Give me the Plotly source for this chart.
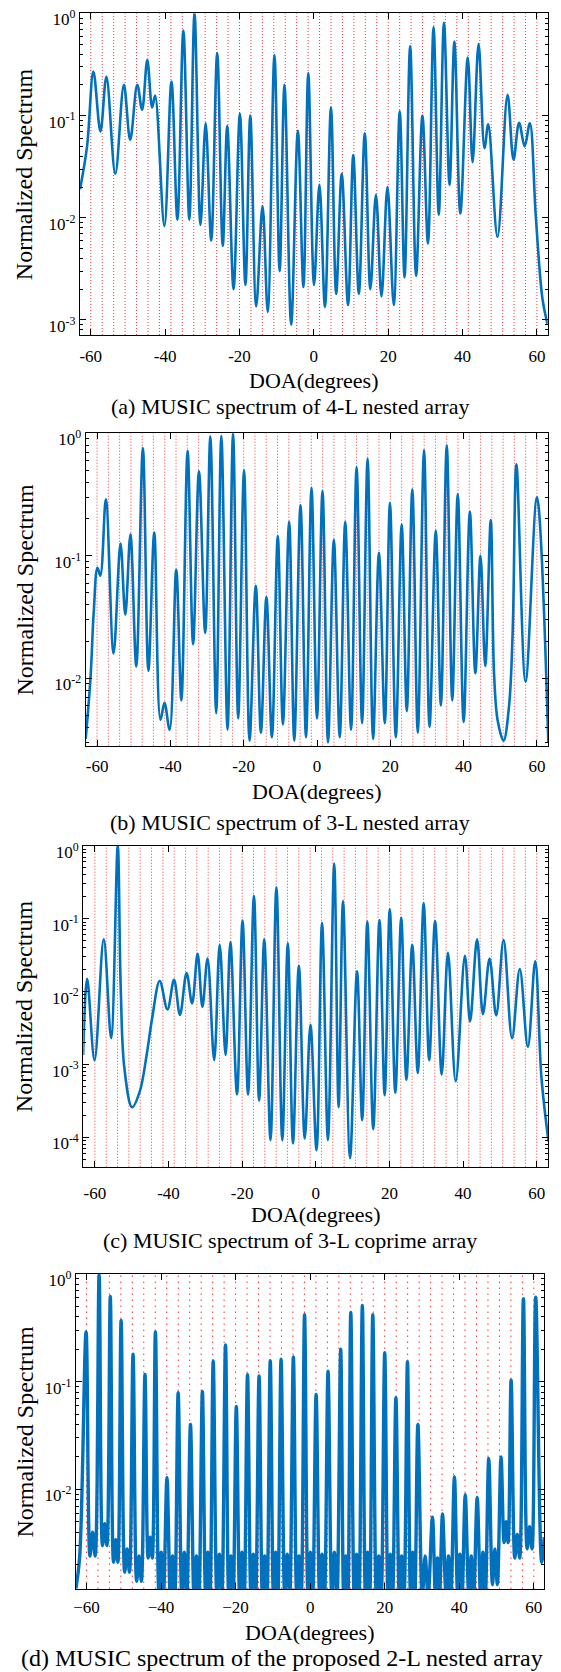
import math
import plotly.graph_objects as go

# ---------------- data ----------------
# true DOAs (red dotted lines), degrees
doa = [-60.0, -56.92, -53.85, -50.77, -47.69, -44.62, -41.54, -38.46, -35.38, -32.31,
       -29.23, -26.15, -23.08, -20.0, -16.92, -13.85, -10.77, -7.69, -4.62, -1.54,
       1.54, 4.62, 7.69, 10.77, 13.85, 16.92, 20.0, 23.08, 26.15, 29.23,
       32.31, 35.38, 38.46, 41.54, 44.62, 47.69, 50.77, 53.85, 56.92, 60.0]

x_tickvals = [-60, -40, -20, 0, 20, 40, 60]
x_ticktext_abc = ["-60", "-40", "-20", "0", "20", "40", "60"]
x_ticktext_d = ["\u221260", "\u221240", "\u221220", "0", "20", "40", "60"]

captions = ["(a) MUSIC spectrum of 4-L nested array",
            "(b) MUSIC spectrum of 3-L nested array",
            "(c) MUSIC spectrum of 3-L coprime array",
            "(d) MUSIC spectrum of the proposed 2-L nested array"]

# (a) 4-L nested array: key points (peaks and troughs) of the spectrum
a_deg = [-62.9, -61.0, -59.3, -57.4, -55.8, -53.4, -51.1, -49.4, -47.5, -46.2,
         -44.8, -43.5, -42.7, -40.2, -38.3, -36.7, -35.1, -33.5, -32.1, -30.5,
         -29.1, -27.6, -26.0, -24.5, -23.3, -21.6, -19.9, -18.4, -17.1, -15.5,
         -13.8, -12.4, -10.6, -9.2, -7.9, -6.1, -4.3, -2.8, -1.5, 0.05,
         1.5, 3.0, 4.6, 6.0, 7.5, 9.2, 10.6, 12.1, 13.7, 15.2,
         16.7, 18.2, 19.8, 21.5, 23.1, 24.4, 25.9, 27.5, 29.2, 30.7,
         32.2, 33.6, 35.0, 36.5, 37.8, 39.4, 41.4, 42.7, 44.3, 45.9,
         46.9, 49.4, 52.1, 53.7, 55.2, 56.7, 58.1, 59.7, 61.5, 62.9]
a_val = [0.019, 0.05, 0.27, 0.07, 0.24, 0.027, 0.2, 0.058, 0.2, 0.114,
         0.35, 0.12, 0.157, 0.0083, 0.215, 0.0096, 0.68, 0.0096, 1.0, 0.0085,
         0.084, 0.006, 0.41, 0.0053, 0.079, 0.002, 0.104, 0.0022, 0.1, 0.00136,
         0.013, 0.0012, 0.39, 0.003, 0.2, 0.0009, 0.071, 0.0021, 0.26, 0.0022,
         0.021, 0.00134, 0.12, 0.0018, 0.027, 0.0014, 0.041, 0.0018, 0.067, 0.002,
         0.0168, 0.0017, 0.02, 0.0014, 0.11, 0.0026, 0.48, 0.0027, 0.1, 0.0056,
         0.73, 0.0107, 0.81, 0.021, 0.53, 0.011, 0.37, 0.035, 0.50, 0.048,
         0.082, 0.0065, 0.16, 0.037, 0.085, 0.05, 0.084, 0.0103, 0.0016, 0.0009]

# (b) 3-L nested array
b_deg = [-63.1, -61.8, -60.9, -59.9, -59.1, -57.6, -55.5, -53.6, -52.3, -50.9,
         -49.3, -47.5, -46.0, -44.4, -42.7, -41.6, -40.2, -38.4, -37.0, -35.3,
         -33.8, -32.2, -30.5, -29.1, -27.5, -26.1, -24.4, -22.9, -21.5, -19.9,
         -18.4, -16.7, -15.3, -13.8, -12.3, -10.7, -9.3, -7.6, -6.2, -4.5,
         -3.0, -1.5, 0.0, 1.5, 3.0, 4.6, 6.2, 7.7, 9.3, 10.8,
         12.3, 13.8, 15.3, 16.9, 18.5, 19.9, 21.5, 23.1, 24.5, 26.0,
         27.5, 29.2, 30.7, 32.4, 33.8, 35.4, 36.9, 38.4, 40.0, 41.7,
         43.2, 44.6, 45.9, 47.4, 48.3, 49.3, 50.9, 52.4, 53.4, 54.4,
         56.9, 60.0, 63.1]
b_val = [0.0032, 0.01, 0.035, 0.08, 0.069, 0.29, 0.016, 0.126, 0.033, 0.15,
         0.0125, 0.76, 0.0115, 0.155, 0.0046, 0.0063, 0.0038, 0.077, 0.0066, 0.72,
         0.019, 0.49, 0.0235, 0.94, 0.0052, 0.95, 0.0038, 1.0, 0.0047, 0.50,
         0.0031, 0.057, 0.0036, 0.046, 0.0033, 0.145, 0.0042, 0.19, 0.0031, 0.26,
         0.0033, 0.36, 0.0047, 0.34, 0.0030, 0.135, 0.0033, 0.19, 0.0038, 0.53,
         0.0043, 0.62, 0.0032, 0.106, 0.0043, 0.27, 0.0033, 0.18, 0.0054, 0.35,
         0.0036, 0.73, 0.0040, 0.16, 0.0060, 0.80, 0.0066, 0.32, 0.0044, 0.23,
         0.011, 0.10, 0.0126, 0.196, 0.011, 0.0045, 0.0031, 0.006, 0.025, 0.56,
         0.0094, 0.30, 0.0030]

# (c) 3-L coprime array
c_deg = [-63.2, -62.1, -60.1, -57.6, -55.6, -53.8, -53.0, -52.0, -49.9, -47.8,
         -45.9, -44.4, -42.4, -40.3, -38.5, -36.9, -35.1, -33.6, -32.1, -30.8,
         -29.4, -27.6, -26.1, -24.5, -23.2, -21.4, -19.9, -18.4, -16.8, -15.4,
         -14.0, -12.3, -10.7, -9.1, -7.6, -6.2, -4.6, -3.0, -1.45, 0.2,
         1.7, 3.3, 5.0, 6.2, 7.4, 9.3, 11.2, 12.6, 14.0, 15.6,
         17.3, 18.7, 20.1, 21.6, 23.2, 24.6, 26.2, 27.7, 29.3, 30.8,
         32.4, 34.2, 35.9, 38.0, 40.5, 41.9, 43.8, 45.4, 47.2, 49.0,
         51.0, 53.3, 55.4, 57.6, 59.6, 61.3, 63.2]
c_val = [0.00135, 0.015, 0.00115, 0.052, 0.0023, 1.0, 0.012, 0.0009, 0.00026, 0.00043,
         0.0014, 0.0045, 0.014, 0.0057, 0.0145, 0.0048, 0.018, 0.0069, 0.033, 0.0062,
         0.0285, 0.00115, 0.044, 0.00135, 0.048, 0.00039, 0.094, 0.00039, 0.206, 0.00032,
         0.052, 0.000092, 0.27, 0.000092, 0.046, 0.000083, 0.0226, 0.000097, 0.0035, 0.000067,
         0.088, 0.000092, 0.57, 0.00026, 0.174, 0.000052, 0.019, 0.000173, 0.091, 0.00013,
         0.096, 0.00038, 0.135, 0.00041, 0.103, 0.00062, 0.044, 0.00077, 0.162, 0.00115,
         0.093, 0.00073, 0.034, 0.00059, 0.031, 0.0039, 0.052, 0.0049, 0.0285, 0.0047,
         0.051, 0.0023, 0.0204, 0.00175, 0.026, 0.00065, 0.000089]

# (d) proposed 2-L nested array: peaks, and per-gap trough / small side-lobe levels
d_peak_deg = [-60.1, -56.6, -53.6, -50.7, -47.5, -44.3, -41.5, -38.4, -35.4, -32.1,
              -28.9, -26.0, -22.7, -19.8, -16.8, -13.7, -10.7, -7.8, -4.5, -1.5,
              1.6, 4.8, 8.2, 10.9, 14.0, 16.8, 20.0, 23.0, 26.1, 28.9,
              32.8, 35.5, 38.7, 41.6, 44.8, 47.9, 51.2, 53.9, 57.2, 60.5]
d_peak_val = [0.29, 0.98, 0.62, 0.37, 0.18, 0.117, 0.29, 0.0129, 0.079, 0.04,
              0.081, 0.156, 0.22, 0.059, 0.116, 0.113, 0.157, 0.162, 0.17, 0.42,
              0.076, 0.125, 0.2, 0.44, 0.51, 0.42, 0.186, 0.071, 0.153, 0.040,
              0.0055, 0.0059, 0.0131, 0.0089, 0.0084, 0.0194, 0.020, 0.103, 0.59, 0.61]
d_trough_val = [0.0024, 0.0030, 0.0021, 0.0017, 0.0014, 0.0023, 0.0011, 0.0010, 0.0010, 0.0010,
                0.0010, 0.0010, 0.0010, 0.0010, 0.0010, 0.0010, 0.0010, 0.0010, 0.0010, 0.0010,
                0.0010, 0.0010, 0.0010, 0.0010, 0.0010, 0.0010, 0.0010, 0.0010, 0.0010, 0.0010,
                0.0010, 0.0010, 0.0010, 0.0010, 0.0010, 0.0013, 0.0032, 0.0023, 0.0028]
d_lobe_val = [0.0040, 0.0048, 0.0034, 0.0028, 0.0024, 0.0036, 0.0026, 0.0024, 0.0026, 0.0024,
              0.0026, 0.0025, 0.0024, 0.0026, 0.0025, 0.0024, 0.0026, 0.0025, 0.0024, 0.0026,
              0.0025, 0.0026, 0.0024, 0.0025, 0.0026, 0.0024, 0.0025, 0.0024, 0.0026, 0.0024,
              0.0023, 0.0024, 0.0025, 0.0024, 0.0026, 0.0028, 0.0050, 0.0038, 0.0045]
d_left_deg, d_left_val = [-62.8, -61.8], [0.0012, 0.0024]
d_right_deg, d_right_val = [62.1, 62.8], [0.0021, 0.0036]

# ---------------- build (d) curve from the read levels ----------------
d_deg, d_val = list(d_left_deg), list(d_left_val)
for i, (p, v) in enumerate(zip(d_peak_deg, d_peak_val)):
    d_deg.append(p)
    d_val.append(v)
    if i < len(d_peak_deg) - 1:
        q = d_peak_deg[i + 1]
        w = q - p
        d_deg += [p + 0.3 * w, p + 0.5 * w, p + 0.7 * w]
        d_val += [d_trough_val[i], d_lobe_val[i], d_trough_val[i]]
d_deg += d_right_deg
d_val += d_right_val

# ---------------- layout geometry (page pixels) ----------------
W, H = 561, 1672
OFF = 8  # the page body adds an 8px margin around the figure
panels = [
    dict(deg=a_deg, val=a_val, xr=[-62.9, 62.9], yr=[-3.147, 0.0005],
         box=(80, 547.7, 13.3, 335), yt=[1, 0.1, 0.01, 0.001], lw=2.6,
         xtt=x_ticktext_abc, stand=5, dash="1px,2px", cap_font=22, cap_x=290, tdy=45),
    dict(deg=b_deg, val=b_val, xr=[-63.1, 63.1], yr=[-2.55, 0.0005],
         box=(85.7, 548.3, 433.3, 745.7), yt=[1, 0.1, 0.01], lw=2.6,
         xtt=x_ticktext_abc, stand=5, dash="1px,2px", cap_font=22, cap_x=290, tdy=46),
    dict(deg=c_deg, val=c_val, xr=[-63.15, 63.15], yr=[-4.40, 0.0005],
         box=(83.3, 548.3, 845.7, 1166.7), yt=[1, 0.1, 0.01, 0.001, 0.0001], lw=2.6,
         xtt=x_ticktext_abc, stand=11, dash="1px,2px", cap_font=22, cap_x=290, tdy=48),
    dict(deg=d_deg, val=d_val, xr=[-62.8, 62.8], yr=[-2.926, 0.0005],
         box=(76, 544.3, 1274, 1589), yt=[1, 0.1, 0.01], lw=3.4,
         xtt=x_ticktext_d, stand=2, dash="1.5px,4.5px", cap_font=24, cap_x=281.5, tdy=43),
]
cap_y = [406, 822, 1240, 1658]


def px(xp):
    return (xp - OFF) / W


def py(yp):
    return 1 - (yp - OFF) / H


def sup_label(v):
    e = int(round(math.log10(v)))
    return "10<sup>%d</sup>" % e


def minor_vals(lo_exp):
    out = []
    e = int(math.floor(lo_exp))
    while e < 0:
        for k in range(2, 10):
            t = k * 10 ** e
            if math.log10(t) > lo_exp:
                out.append(t)
        e += 1
    return out


FONT = "Liberation Serif"
BLUE = "#0072BD"

fig = go.Figure()
shapes = []
annotations = []
layout = {}

for n, p in enumerate(panels, start=1):
    sfx = "" if n == 1 else str(n)
    xa, ya = "x" + sfx, "y" + sfx
    fig.add_trace(go.Scatter(x=p["deg"], y=p["val"], mode="lines",
                             line=dict(color=BLUE, width=p["lw"], shape="spline", smoothing=1.0),
                             xaxis=xa, yaxis=ya, showlegend=False, hoverinfo="skip"))
    x0, x1, y0, y1 = p["box"]
    layout["xaxis" + sfx] = dict(
        domain=[px(x0), px(x1)], anchor=ya, range=p["xr"], automargin=False,
        tickmode="array", tickvals=x_tickvals, ticktext=p["xtt"],
        ticks="inside", ticklen=6, tickwidth=1, tickcolor="black",
        showline=True, linecolor="black", linewidth=1.2, mirror="allticks",
        showgrid=False, zeroline=False, ticklabelstandoff=p["stand"],
        ticklabeloverflow="allow",
        tickfont=dict(family=FONT, size=17, color="black"))
    layout["yaxis" + sfx] = dict(
        domain=[py(y1), py(y0)], anchor=xa, type="log", range=p["yr"], automargin=False,
        tickmode="array", tickvals=p["yt"], ticktext=[sup_label(v) for v in p["yt"]],
        ticks="inside", ticklen=6, tickwidth=1, tickcolor="black",
        minor=dict(tickmode="array", tickvals=minor_vals(p["yr"][0]), ticks="inside",
                   ticklen=3, tickwidth=1, tickcolor="black", showgrid=False),
        showline=True, linecolor="black", linewidth=1.2, mirror="allticks",
        showgrid=False, zeroline=False, ticklabeloverflow="allow", ticklabelshift=6,
        tickfont=dict(family=FONT, size=17, color="black"))
    for d in doa:
        shapes.append(dict(type="line", xref=xa, yref=ya + " domain", x0=d, x1=d, y0=0, y1=1,
                           line=dict(color="rgba(255,0,0,0.8)", width=1, dash=p["dash"]),
                           layer="below"))
    annotations.append(dict(text="DOA(degrees)", xref="paper", yref="paper",
                            x=px((x0 + x1) / 2), y=py(y1 + p["tdy"]), xanchor="center", yanchor="middle",
                            showarrow=False, font=dict(family=FONT, size=22, color="black")))
    annotations.append(dict(text="Normalized Spectrum", xref="paper", yref="paper",
                            x=px(24), y=py((y0 + y1) / 2), xanchor="center", yanchor="middle",
                            textangle=-90, showarrow=False,
                            font=dict(family=FONT, size=24, color="black")))
    annotations.append(dict(text=captions[n - 1], xref="paper", yref="paper",
                            x=px(p["cap_x"]), y=py(cap_y[n - 1]), xanchor="center", yanchor="middle",
                            showarrow=False, font=dict(family=FONT, size=p["cap_font"], color="black")))

fig.update_layout(width=W, height=H, margin=dict(l=0, r=0, t=0, b=0, autoexpand=False),
                  paper_bgcolor="white", plot_bgcolor="white",
                  shapes=shapes, annotations=annotations, **layout)
fig.write_html("out.html")
